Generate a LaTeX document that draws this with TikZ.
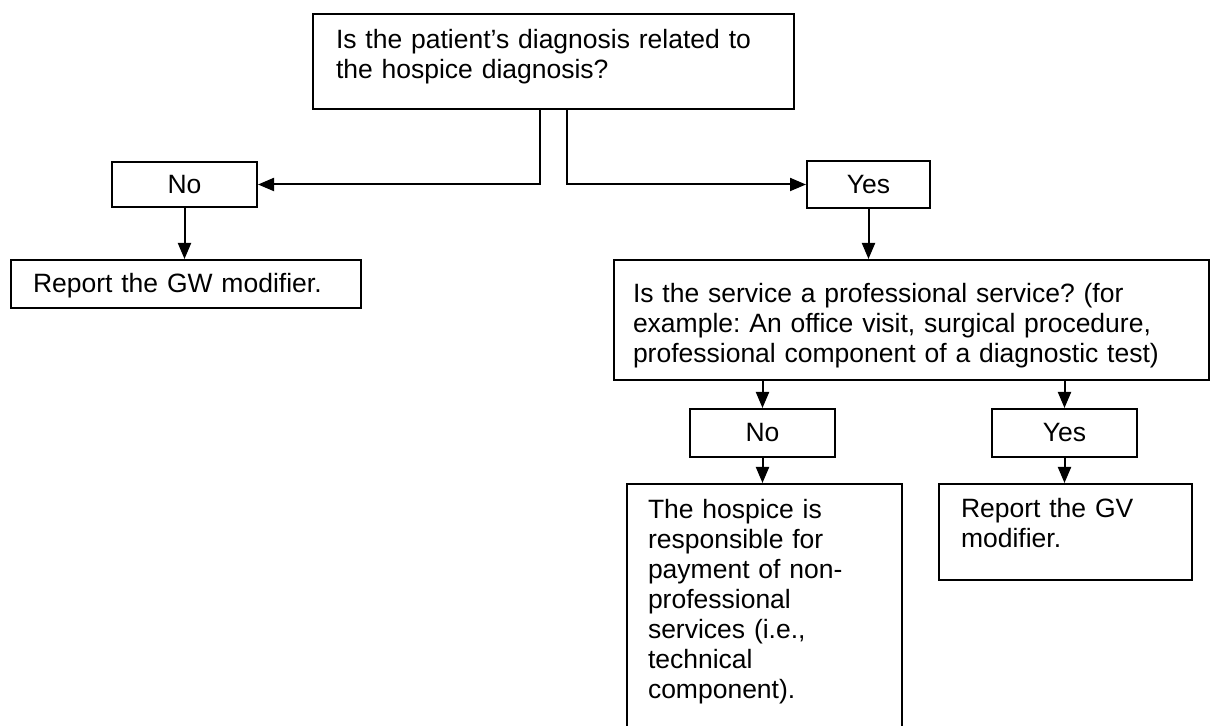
\documentclass[tikz,border=0pt]{standalone}
\usepackage{fontspec}
\setmainfont{Liberation Sans}
\usetikzlibrary{arrows.meta}
\frenchspacing
\begin{document}
\begin{tikzpicture}[x=0.5pt,y=-0.5pt,line width=1pt,>={Triangle[length=8pt,width=6.5pt]},
  every node/.style={font=\fontsize{13.25}{15}\selectfont},
  box/.style={draw,anchor=north west,inner ysep=0pt,align=left},
  ans/.style={draw,inner sep=0pt,minimum width=72.5pt,minimum height=24pt}]
\clip (0,0) rectangle (1212,726);
% question boxes
\node[box,text width=217.5pt,inner xsep=11.5pt,text height=17.5pt,text depth=30pt] (q1) at (312,13)
  {Is the patient’s diagnosis related to\\the hospice diagnosis?};
\node[box,text width=278.5pt,inner xsep=9.5pt,text height=21.5pt,text depth=38.5pt] (q2) at (613,259)
  {Is the service a professional service? (for\\example: An office visit, surgical procedure,\\professional component of a diagnostic test)};
% answers
\node[ans,minimum height=22.5pt] (noA) at (184.5,184.5) {No};
\node[ans,minimum width=61.5pt,minimum height=23.5pt] (yesA) at (868.5,184.5) {Yes};
\node[ans] (noB) at (762.5,433) {No};
\node[ans] (yesB) at (1064.5,433) {Yes};
% results
\node[box,text width=153pt,inner xsep=11pt,text height=16.5pt,text depth=7.5pt] (gw) at (10,259)
  {Report the GW modifier.};
\node[box,text width=116.5pt,inner xsep=10.5pt,text height=17.5pt,text depth=126pt] (hosp) at (626,483)
  {The hospice is\\responsible for\\payment of non-\\professional\\services (i.e.,\\technical\\component).};
\node[box,text width=104.5pt,inner xsep=11pt,text height=17pt,text depth=31pt] (gv) at (938,483)
  {Report the GV\\modifier.};
% connectors
\draw[->] ([xshift=-6.75pt]q1.south) |- (noA.east);
\draw[->] ([xshift=6.75pt]q1.south) |- (yesA.west);
\draw[->] (noA.south) -- (noA.south |- gw.north);
\draw[->] (yesA.south) -- (yesA.south |- q2.north);
\draw[->] (noB.north |- q2.south) -- (noB.north);
\draw[->] (yesB.north |- q2.south) -- (yesB.north);
\draw[->] (noB.south) -- (noB.south |- hosp.north);
\draw[->] (yesB.south) -- (yesB.south |- gv.north);
\end{tikzpicture}
\end{document}
